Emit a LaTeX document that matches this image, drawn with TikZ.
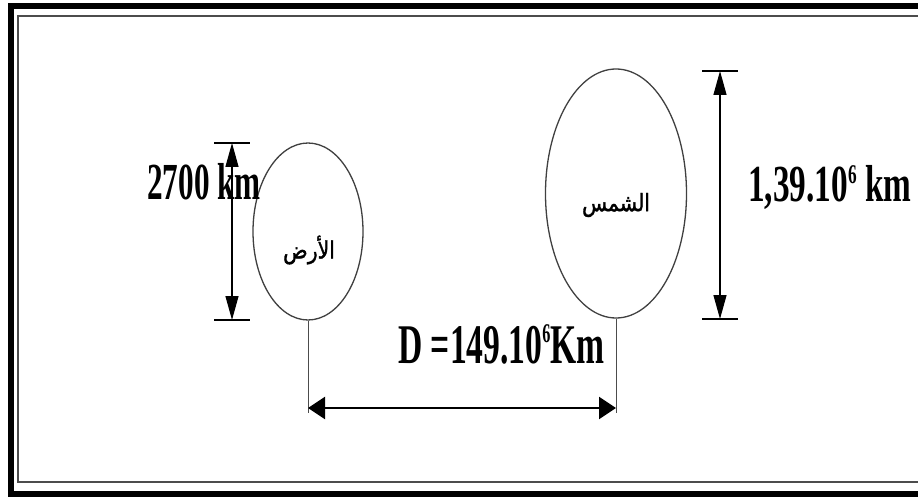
\documentclass[tikz,border=0pt]{standalone}
\usepackage{fontspec}
\setmainfont{Liberation Serif}
\newfontfamily\arabicfont[Script=Arabic,FakeBold=1.5]{DejaVu Sans}
\TeXXeTstate=1
\usetikzlibrary{arrows.meta,shapes.geometric}
\newcommand{\supsix}{\raisebox{0.36em}{\fontsize{27}{30}\selectfont 6}}
\tikzset{
  body/.style={ellipse,draw=black!75,line width=1.3pt,inner sep=0pt},
  dimline/.style={line width=1.3pt,-{Triangle[length=24pt,width=13pt]}},
  hdim/.style={line width=2.5pt,{Triangle[length=17pt,width=22pt]}-{Triangle[length=17pt,width=22pt]}},
  bar/.style={line width=1.5pt},
  extline/.style={line width=1pt,draw=black!70},
  lbl/.style={inner sep=0pt,font=\bfseries\fontsize{52}{60}\selectfont},
  arlbl/.style={inner sep=0pt,font=\arabicfont\fontsize{24}{28}\selectfont}
}
\begin{document}
\begin{tikzpicture}[x=1pt,y=-1pt]
\useasboundingbox (0,0) rectangle (918,497);
\clip (0,0) rectangle (918,497);
\fill[white] (0,0) rectangle (918,497);
% frame
\draw[line width=6pt] (11,6) rectangle (940,494);
\draw[line width=2pt,draw=black!70] (18,16.5) rectangle (930,482);
% bodies
\node[body,minimum width=110pt,minimum height=177pt] (earth) at (308,231.5) {};
\node[body,minimum width=141pt,minimum height=249pt] (sun) at (616,193.5) {};
\node[arlbl] (earthname) at (309,250) {\scalebox{0.85}[1]{\beginR الأرض\endR}};
\node[arlbl] (sunname) at (616,205) {\scalebox{0.85}[1]{\beginR الشمس\endR}};
% earth dimension
\coordinate (et) at (232,143);
\coordinate (eb) at (232,320);
\coordinate (etl) at (214,143); \coordinate (etr) at (250,143);
\coordinate (ebl) at (214,320); \coordinate (ebr) at (250,320);
\draw[bar] (etl) -- (etr);
\draw[bar] (ebl) -- (ebr);
\coordinate (em) at (232,231.5);
\draw[dimline] (em) -- (et);
\draw[dimline] (em) -- (eb);
% sun dimension
\coordinate (st) at (720,71);
\coordinate (sb) at (720,319);
\coordinate (stl) at (702,71); \coordinate (str) at (738,71);
\coordinate (sbl) at (702,319); \coordinate (sbr) at (738,319);
\draw[bar] (stl) -- (str);
\draw[bar] (sbl) -- (sbr);
\coordinate (sm) at (720,195);
\draw[dimline] (sm) -- (st);
\draw[dimline] (sm) -- (sb);
% distance
\coordinate (dl) at (earth.south |- 0,413);
\coordinate (dr) at (sun.south |- 0,413);
\draw[extline] (earth.south) -- (dl);
\draw[extline] (sun.south) -- (dr);
\coordinate (al) at (earth.south |- 0,408);
\coordinate (ar) at (sun.south |- 0,408);
\draw[hdim] (al) -- (ar);
% labels
\node[lbl,anchor=base west] (elabel) at (147,200) {\scalebox{0.6}[1]{2700 km}};
\node[lbl,anchor=base west] (slabel) at (748,202) {\scalebox{0.64}[1]{1,39.10\supsix\ km}};
\node[lbl,anchor=base west,font=\bfseries\fontsize{56}{60}\selectfont] (dlabel) at (398,363) {\scalebox{0.6}[1]{D =149.10\supsix Km}};
\end{tikzpicture}
\end{document}
